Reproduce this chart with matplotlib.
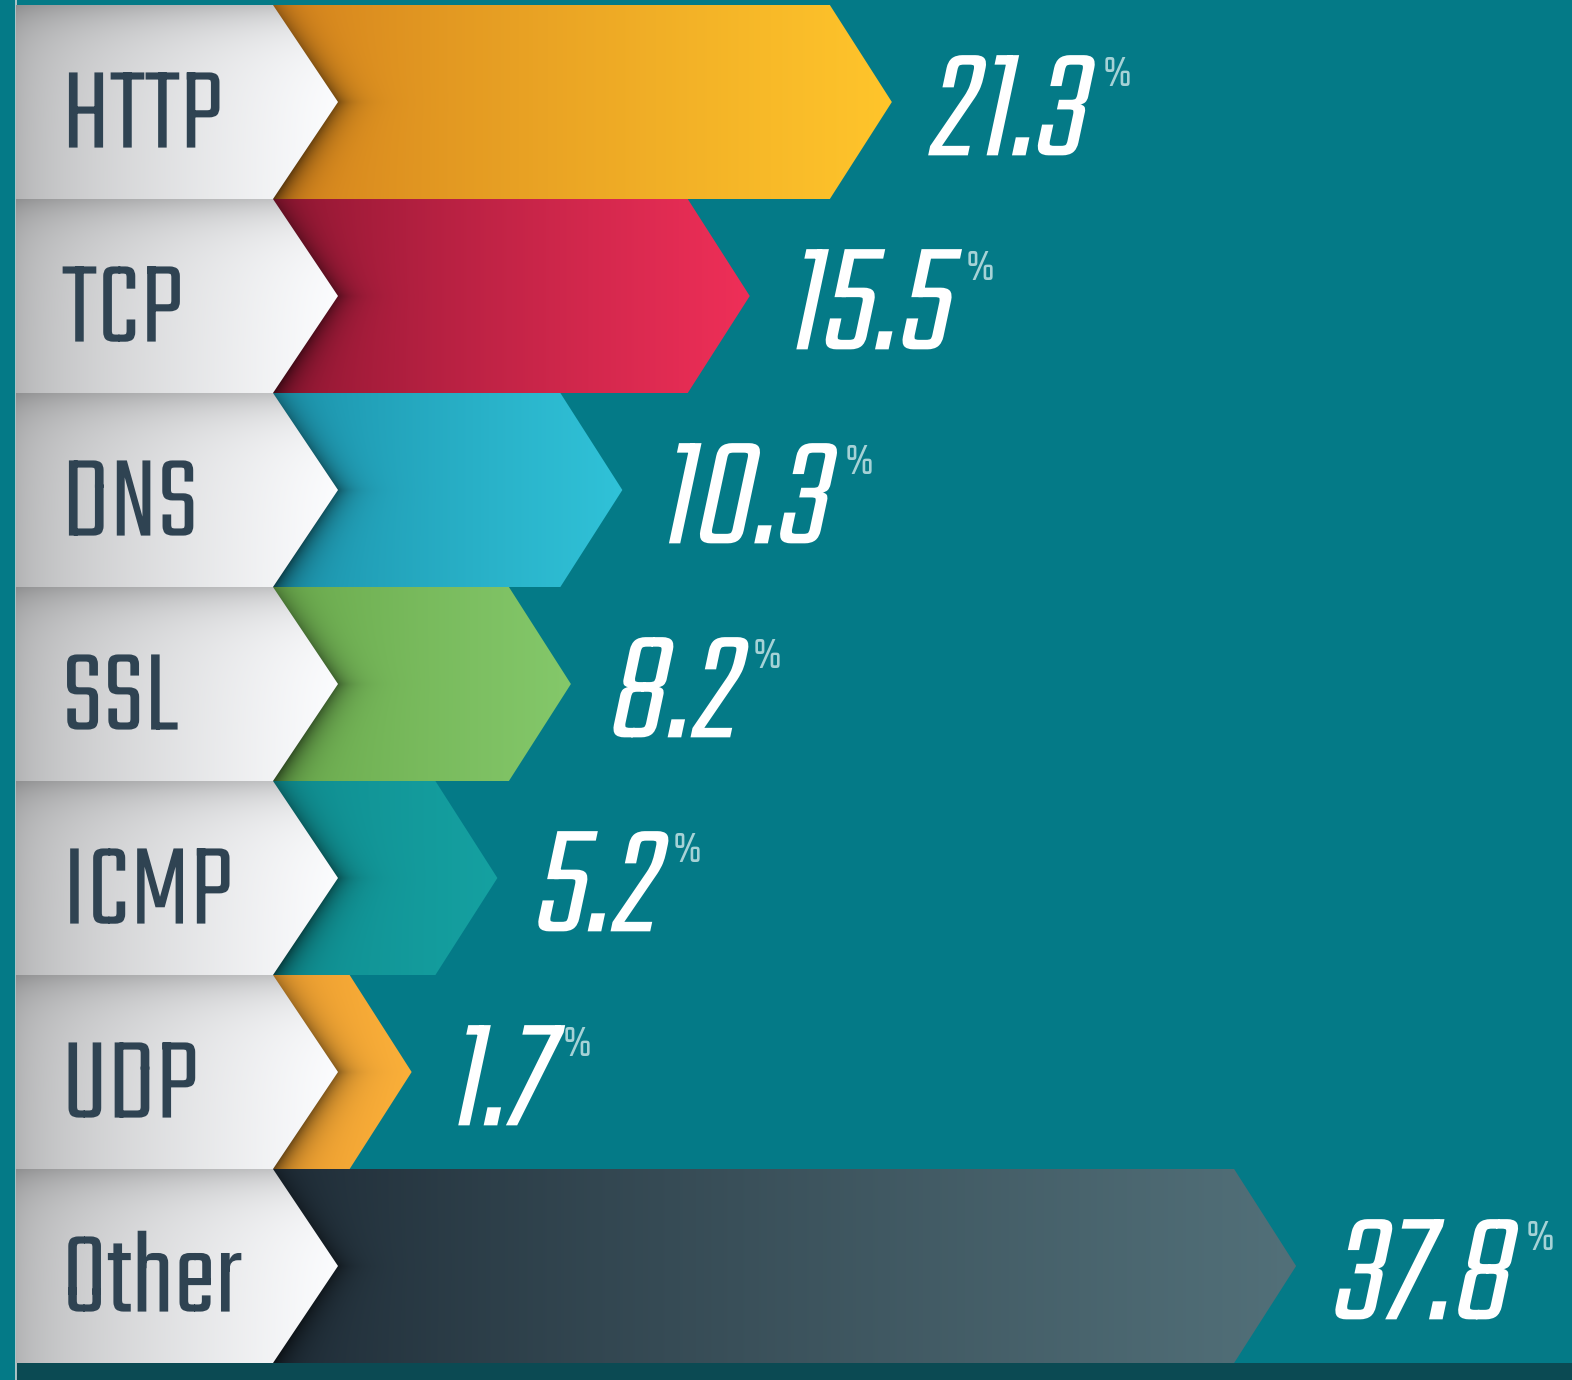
import matplotlib

matplotlib.use("Agg")
import matplotlib.pyplot as plt  # noqa: E402
import numpy as np  # noqa: E402
from matplotlib.colors import to_rgb  # noqa: E402
from matplotlib.patches import Polygon  # noqa: E402
from matplotlib.patheffects import AbstractPathEffect  # noqa: E402
from matplotlib.transforms import Affine2D  # noqa: E402

protocols = ["HTTP", "TCP", "DNS", "SSL", "ICMP", "UDP", "Other"]
shares = [21.3, 15.5, 10.3, 8.2, 5.2, 1.7, 37.8]
bar_dark = ["#d3801d", "#8c1631", "#1b90a9", "#69a84b", "#0f8b8f", "#eb9c2f", "#1e2b36"]
bar_light = ["#ffc52b", "#ef2f58", "#30c2d8", "#84c86a", "#15a1a1", "#fbb03a", "#527079"]

VALUE_SQUEEZE = 1.03


class Slant(AbstractPathEffect):
    """Draw the glyph outlines sheared (fake italic) and optionally widened."""

    def __init__(self, shear_deg=0.0, squeeze=1.0):
        super().__init__()
        self._pre = Affine2D().scale(squeeze, 1.0).skew_deg(shear_deg, 0)

    def draw_path(self, renderer, gc, tpath, affine, rgbFace=None):
        renderer.draw_path(gc, tpath, self._pre + affine, rgbFace)


fig = plt.figure(figsize=(15.72, 13.8), dpi=100)
fig.patch.set_facecolor("#047a87")
ax = fig.add_axes([0, 0, 1, 1])

# 24.5 px per percent, zero at x=370 px
PX_PER = 24.5
X0 = 370


def px(p):
    return (p - X0) / PX_PER


ax.set_xlim(px(0), px(1572))
ax.set_ylim(6.5 + 17 / 194, -0.5 - 5 / 194)
ax.axis("off")

panel_left = px(16)
notch = px(273)
depth = px(338) - notch
tip = 62 / PX_PER


def gradient(poly, x0, x1, y0, y1, colour_fn, z):
    xs = np.linspace(x0, x1, 500)
    ys = np.linspace(y0, y1, 120)
    X, Y = np.meshgrid(xs, ys)
    img = np.clip(colour_fn(X, Y), 0, 1)
    patch = Polygon(poly, closed=True, facecolor="none", edgecolor="none", zorder=z)
    ax.add_patch(patch)
    im = ax.imshow(img, extent=(x0, x1, y1, y0), origin="upper", aspect="auto",
                   interpolation="bilinear", zorder=z)
    im.set_clip_path(patch)


# bottom strip and left edge line
ax.fill_between([panel_left, px(1572)], 6.5, 6.6, color="#0b4a53", zorder=1, lw=0)
ax.axvline(px(15.5), color="#c9d3d5", lw=1.2, zorder=1)

for i, (name, v) in enumerate(zip(protocols, shares)):
    top, bot = i - 0.5, i + 0.5
    dark = np.array(to_rgb(bar_dark[i]))
    light = np.array(to_rgb(bar_light[i]))

    def bar_fn(X, Y, dark=dark, light=light, v=v, i=i, top=top):
        t = np.clip((X - notch) / (v - notch), 0, 1) ** 0.8
        base = dark + (light - dark) * t[..., None]
        edge = notch + depth * (1 - np.abs(Y - i) / 0.5)
        d = np.clip(X - edge, 0, None)
        shade = 0.6 * np.exp(-d / 0.6) * (0.5 + 0.5 * (Y - top))
        return base * (1 - shade[..., None])

    poly = [(notch, top), (v - tip, top), (v, i), (v - tip, bot), (notch, bot)]
    gradient(poly, notch, v, top, bot, bar_fn, 2)

    def panel_fn(X, Y, top=top):
        t = np.clip((X - panel_left) / (notch + depth - panel_left), 0, 1) ** 0.6
        g = 0.69 + 0.30 * t
        g = g * (1 - 0.2 * np.exp(-(Y - top) / 0.12))
        return np.repeat(g[..., None], 3, axis=2) * np.array([1.0, 1.003, 1.01])

    ppoly = [(panel_left, top), (notch, top), (notch + depth, i), (notch, bot),
             (panel_left, bot)]
    gradient(ppoly, panel_left, notch + depth, top, bot, panel_fn, 3)

    ax.text(px(62), i + 0.235, name, fontsize=87, color="#2f4352", va="baseline",
            ha="left", family="Teko", fontweight="light", zorder=4,
            path_effects=[Slant(0, 1.04)])
    t = ax.text(v + 32 / PX_PER, i + 0.275, f"{v}", fontsize=116, color="white",
                va="baseline", ha="left", family="Teko", fontweight="semibold", zorder=4,
                path_effects=[Slant(12, VALUE_SQUEEZE)])
    ax.annotate("%", xy=(VALUE_SQUEEZE, i - 0.085), xycoords=(t, "data"), xytext=(14, 0),
                textcoords="offset points", va="baseline", ha="left", fontsize=34,
                family="Teko", fontweight="light", color="#a6d2d6", zorder=4)

fig.savefig("out.png", dpi=100, facecolor=fig.get_facecolor())
